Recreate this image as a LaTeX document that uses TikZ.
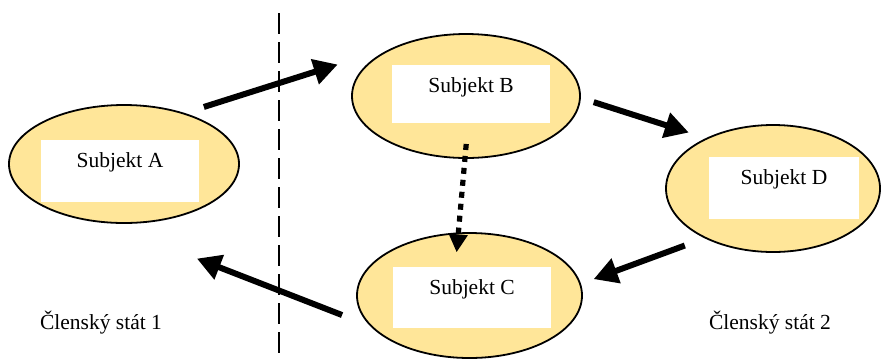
\documentclass[tikz,border=0pt]{standalone}
\usepackage{fontspec}
\setmainfont{Liberation Serif}
\usepackage{xcolor}
\usepackage{tikz}
\usetikzlibrary{shapes.geometric, arrows.meta}

\definecolor{subjfill}{HTML}{FFE699}

\begin{document}
\begin{tikzpicture}[
    x=0.5pt, y=-0.5pt,
    subj/.style={draw, ellipse, fill=subjfill, line width=0.9pt, inner sep=0pt},
    inbox/.style={rectangle, fill=white, inner sep=0pt, minimum width=79pt, text height=13.75pt, text depth=17pt, font=\fontsize{10.75}{13}\selectfont},
    country/.style={anchor=base, font=\fontsize{10.75}{13}\selectfont},
    arrow/.style={line width=3pt, -{Triangle[length=12pt, width=12.5pt]}},
    dotarrow/.style={line width=2.6pt, dash pattern=on 3pt off 3pt, -{Triangle[length=9pt, width=9pt]}},
    border/.style={line width=1pt, dash pattern=on 10.5pt off 4pt}
]
\useasboundingbox (0,0) rectangle (881,360);

% Nodes
\node (subjA) [subj, minimum width=115pt, minimum height=59pt] at (124,164) {};
\node (subjB) [subj, minimum width=114pt, minimum height=62pt] at (466,96) {};
\node (subjC) [subj, minimum width=112.5pt, minimum height=62.5pt] at (469.5,295.5) {};
\node (subjD) [subj, minimum width=107pt, minimum height=63.5pt] at (773,188.5) {};

\node (boxA) [inbox] at (120,171) {Subjekt A};
\node (boxB) [inbox, text depth=15pt] at (471,94) {Subjekt B};
\node (boxC) [inbox] at (472,297.5) {Subjekt C};
\node (boxD) [inbox, minimum width=75pt] at (784,188) {Subjekt D};

\node (stat1) [country] at (101,329) {Členský stát 1};
\node (stat2) [country] at (770,329) {Členský stát 2};

% Border between the states
\draw [border] (279,13) -- (279,361);

% Edges
\draw [arrow, shorten <=10pt, shorten >=31pt] (subjA.40) -- (subjB.144);
\draw [arrow, shorten <=6.75pt, shorten >=9pt] (subjB.-1) -- (subjD.143);
\draw [arrow, shorten <=10.5pt, shorten >=6.75pt] (subjD.216) -- (subjC.6);
\draw [arrow, shorten <=15pt, shorten >=48.8pt] (subjC.197) -- (subjA.253);
\draw [dotarrow, shorten <=-7.5pt, shorten >=-10pt] (subjB.269) -- (subjC.100);

\end{tikzpicture}
\end{document}
